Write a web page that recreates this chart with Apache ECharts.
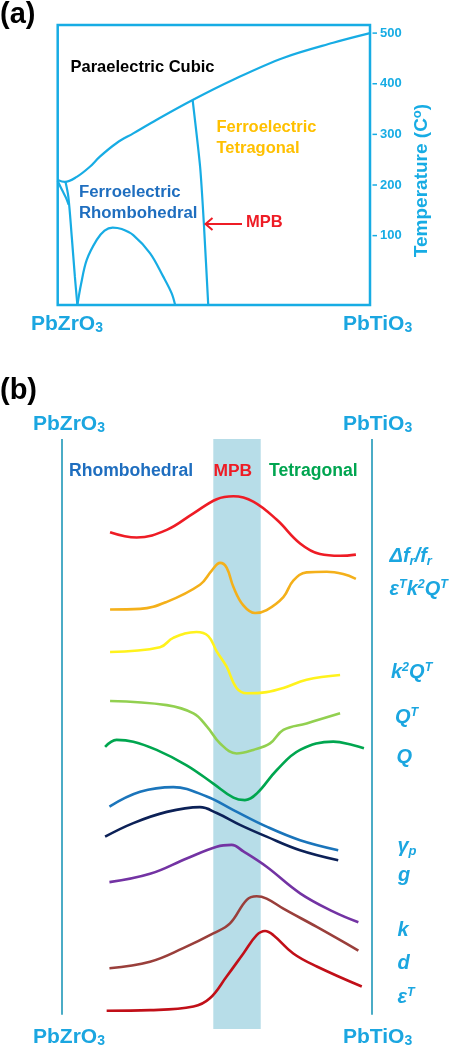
<!DOCTYPE html>
<html>
<head>
<meta charset="utf-8">
<script src="https://cdn.jsdelivr.net/npm/echarts@6/dist/echarts.min.js"></script>
<style>
html,body{margin:0;padding:0;background:#ffffff;}
#chart{width:453px;height:1050px;}
</style>
</head>
<body>
<div id="chart"></div>
<script>
// ---------- Panel (a): phase diagram (x = % PbTiO3, y = temperature °C) ----------
const tempTicks = [100, 200, 300, 400, 500];
const tempRange = [-37, 516];
const compRange = [0, 100];
const cubicBoundary = [[0,210],[2.3,206],[6.1,216],[10.3,236],[13.5,256],[18.9,283],[24.2,302],[31.7,329],[43.2,368],[56.2,408],[72.2,451],[88.2,481],[100,500]];
const mpbBoundary = [[43.2,368],[45.6,236],[46.8,124],[48.2,-37]];
const afeBoundaryA = [[0,208],[1.4,190],[2.7,174],[3.5,161]];
const afeBoundaryB = [[2.5,206],[3.4,177],[4.5,98],[5.5,19],[6.3,-37]];
const rhDome = [[6.3,-37],[7.5,5],[9.3,52],[12.5,91.5],[15,110],[17.6,116],[20.5,113],[24.2,101],[29.6,65],[33.8,19],[36.5,-14],[37.6,-37]];

// ---------- Panel (b): schematic property curves (x = composition, y = arbitrary offset units) ----------
const propRange = [0, 100];
const mpbBand = [48.9, 64.2];
const frameBottom = 2.4;
const propNames = ['Δfr/fr','εTk2QT','k2QT','QT','Q','γp','g','k','d','εT'];
const dfr  = [[15.6,84.2],[24.2,83.3],[33.9,84.6],[42.5,87.4],[50.0,89.8],[55.4,90.3],[61.8,89.4],[69.4,86.3],[76.9,82.3],[83.3,80.5],[89.8,80.2],[94.9,80.4]];
const ek2q = [[15.6,71.1],[25.3,71.2],[33.9,72.4],[44.6,75.3],[48.4,77.7],[51.1,79.0],[53.2,78.2],[55.4,74.9],[58.6,71.8],[62.4,70.5],[66.1,71.0],[71.5,73.2],[74.7,76.0],[79.0,77.4],[85.5,77.5],[90.8,77.1],[94.9,76.3]];
const k2q  = [[15.6,63.9],[31.7,64.7],[36.0,66.3],[43.5,67.3],[47.3,66.6],[50.0,64.0],[53.2,61.4],[56.4,57.8],[59.7,56.9],[66.1,57.1],[71.5,57.8],[79.0,59.2],[89.8,60.0]];
const qT   = [[15.6,55.6],[33.9,54.9],[42.5,53.5],[46.8,51.3],[51.1,48.4],[56.4,46.7],[61.8,47.3],[67.2,48.4],[71.5,50.7],[79.0,51.8],[89.8,53.5]];
const qM   = [[14.0,47.8],[17.7,49.0],[23.1,48.7],[30.6,47.3],[40.3,44.7],[48.9,41.6],[55.4,39.2],[59.1,38.8],[62.9,39.9],[69.4,43.9],[76.9,47.3],[87.6,48.7],[94.1,48.1],[97.5,47.6]];
const gammaP = [[15.4,37.7],[25.3,40.2],[36.0,41.0],[46.8,39.4],[55.4,37.1],[66.1,34.3],[76.9,32.0],[89.2,30.3]];
const gC   = [[14.0,32.6],[23.1,34.9],[33.9,36.8],[44.6,37.6],[50.0,36.6],[57.5,34.6],[66.1,32.6],[76.9,30.3],[89.2,28.6]];
const kC   = [[15.4,24.9],[28.5,26.3],[40.3,28.9],[50.0,30.9],[54.8,31.2],[58.6,30.1],[66.1,27.5],[76.9,23.0],[87.6,19.9],[95.7,18.1]];
const dC   = [[15.4,10.3],[28.5,11.4],[39.2,13.7],[48.9,16.2],[54.3,17.9],[59.7,21.9],[62.9,22.5],[66.1,22.1],[71.5,20.4],[82.3,17.3],[95.7,13.3]];
const eT   = [[14.5,3.1],[28.5,3.2],[42.5,3.8],[47.8,5.2],[53.2,8.9],[58.6,12.8],[62.9,15.9],[65.6,16.6],[68.3,15.9],[74.7,12.8],[82.3,10.6],[96.8,7.2]];
const propData = [dfr, ek2q, k2q, qT, qM, gammaP, gC, kC, dC, eT];
const propColors = ['#EE1C25','#F4B01A','#FFF21C','#92D050','#00A64F','#1B75BB','#0C2157','#7333A3','#9A3F3B','#C10F18'];

// ---------- styling ----------
const FONT = "'Liberation Sans', Arial, Helvetica, sans-serif";
const CYAN = '#17ACE4';
const LBL = '#1BA6E0';
const FRAME = '#4BACC6';

const chart = echarts.init(document.getElementById('chart'), null, {renderer: 'canvas'});

function hiddenAxis(extra) {
  return Object.assign({
    type: 'value', axisLine: {show: false}, axisTick: {show: false},
    axisLabel: {show: false}, splitLine: {show: false}
  }, extra);
}

function txt(x, y, text, opts) {
  return {
    type: 'text', x: x, y: y, silent: true, z: 100,
    rotation: opts.rotation || 0,
    style: Object.assign({
      text: text, fill: opts.color, fontFamily: FONT, fontWeight: 'bold',
      fontSize: opts.size, fontStyle: opts.italic ? 'italic' : 'normal',
      align: opts.align || 'left', verticalAlign: 'middle'
    }, opts.rich ? {rich: opts.rich} : {}, opts.lineHeight ? {lineHeight: opts.lineHeight} : {})
  };
}

const subRich = {
  sub: {fontSize: 14, fontWeight: 'bold', fontFamily: FONT, padding: [9, 0, 0, 0]},
  sup: {fontSize: 13, fontWeight: 'bold', fontFamily: FONT, padding: [0, 0, 9, 0]}
};
const labRich = {
  sub: {fontSize: 13, fontWeight: 'bold', fontStyle: 'italic', fontFamily: FONT, padding: [10, 0, 0, 0]},
  sup: {fontSize: 12.5, fontWeight: 'bold', fontStyle: 'italic', fontFamily: FONT, padding: [0, 0, 9, 0]}
};

const seriesA = [cubicBoundary, mpbBoundary, afeBoundaryA, afeBoundaryB, rhDome].map(function (d, i) {
  return {
    type: 'line', xAxisIndex: 0, yAxisIndex: 0, data: d, showSymbol: false,
    smooth: i === 1 ? 0.2 : 0.35, clip: true,
    lineStyle: {color: CYAN, width: 2.2}, silent: true, z: 3
  };
});

const frameSeries = {
  type: 'line', xAxisIndex: 1, yAxisIndex: 1, data: [], showSymbol: false, silent: true, z: 1,
  markArea: {silent: true, itemStyle: {color: '#B7DDE8'},
    data: [[{xAxis: mpbBand[0]}, {xAxis: mpbBand[1]}]]},
  markLine: {silent: true, symbol: ['none', 'none'], label: {show: false},
    lineStyle: {color: FRAME, width: 2, type: 'solid'},
    data: [
      [{coord: [propRange[0], frameBottom]}, {coord: [propRange[0], 100]}],
      [{coord: [propRange[1], frameBottom]}, {coord: [propRange[1], 100]}]
    ]}
};

const seriesB = propData.map(function (d, i) {
  return {
    name: propNames[i], type: 'line', xAxisIndex: 1, yAxisIndex: 1, data: d,
    showSymbol: false, smooth: 0.4, silent: true, z: 5,
    lineStyle: {color: propColors[i], width: 2.6}
  };
});

const graphics = [
  // panel (a)
  txt(0, 15, '(a)', {color: '#000', size: 29}),
  txt(70.5, 67, 'Paraelectric Cubic', {color: '#000', size: 16.5}),
  txt(216.5, 137.5, 'Ferroelectric\nTetragonal', {color: '#FFC000', size: 16.5, lineHeight: 21}),
  txt(79, 203, 'Ferroelectric\nRhombohedral', {color: '#1F6EBF', size: 16.8, lineHeight: 20.5}),
  txt(246, 222, 'MPB', {color: '#EE1C25', size: 16.5}),
  {type: 'line', silent: true, z: 100, shape: {x1: 206, y1: 224, x2: 242, y2: 224}, style: {stroke: '#EE1C25', lineWidth: 2}},
  {type: 'polyline', silent: true, z: 100, shape: {points: [[212.5, 218], [205.5, 224], [212.5, 230]]}, style: {stroke: '#EE1C25', lineWidth: 2, fill: null}},
  txt(31, 324, 'PbZrO{sub|3}', {color: LBL, size: 21, rich: subRich}),
  txt(343, 324, 'PbTiO{sub|3}', {color: LBL, size: 21, rich: subRich}),
  txt(421.5, 180.5, 'Temperature (C{sup|o})', {color: CYAN, size: 19, align: 'center', rotation: Math.PI / 2, rich: subRich}),
  // panel (b)
  txt(0, 391, '(b)', {color: '#000', size: 29}),
  txt(33, 424, 'PbZrO{sub|3}', {color: LBL, size: 21, rich: subRich}),
  txt(343, 424, 'PbTiO{sub|3}', {color: LBL, size: 21, rich: subRich}),
  txt(33, 1037, 'PbZrO{sub|3}', {color: LBL, size: 21, rich: subRich}),
  txt(343, 1037, 'PbTiO{sub|3}', {color: LBL, size: 21, rich: subRich}),
  txt(69, 471, 'Rhombohedral', {color: '#1F6EBF', size: 17.6}),
  txt(213.5, 471, 'MPB', {color: '#EE1C25', size: 17.4}),
  txt(269, 471, 'Tetragonal', {color: '#00A550', size: 17.6}),
  txt(389.5, 556, 'Δf{sub|r}/f{sub|r}', {color: LBL, size: 20, italic: true, rich: labRich}),
  txt(389.5, 589, 'ε{sup|T}k{sup|2}Q{sup|T}', {color: LBL, size: 20, italic: true, rich: labRich}),
  txt(391, 672, 'k{sup|2}Q{sup|T}', {color: LBL, size: 20, italic: true, rich: labRich}),
  txt(395, 717, 'Q{sup|T}', {color: LBL, size: 20, italic: true, rich: labRich}),
  txt(396.5, 757, 'Q', {color: LBL, size: 20, italic: true}),
  txt(397.5, 846, 'γ{sub|p}', {color: LBL, size: 20, italic: true, rich: labRich}),
  txt(398, 875, 'g', {color: LBL, size: 20, italic: true}),
  txt(397.5, 930, 'k', {color: LBL, size: 20, italic: true}),
  txt(397.5, 963, 'd', {color: LBL, size: 20, italic: true}),
  txt(397.5, 997, 'ε{sup|T}', {color: LBL, size: 20, italic: true, rich: labRich})
];

const option = {
  animation: false,
  backgroundColor: '#ffffff',
  textStyle: {fontFamily: FONT},
  grid: [
    {left: 57.7, top: 25, width: 312.3, height: 280, show: true, borderColor: CYAN, borderWidth: 2.5, backgroundColor: 'transparent'},
    {left: 61.7, top: 439, width: 310, height: 590, show: false}
  ],
  xAxis: [
    hiddenAxis({gridIndex: 0, min: compRange[0], max: compRange[1]}),
    hiddenAxis({gridIndex: 1, min: propRange[0], max: propRange[1]})
  ],
  yAxis: [
    {
      type: 'value', gridIndex: 0, position: 'right', min: tempRange[0], max: tempRange[1],
      axisLine: {show: false},
      axisTick: {show: false},
      axisLabel: {show: true, customValues: tempTicks, margin: 10, color: CYAN, fontWeight: 'bold', fontSize: 13, fontFamily: FONT},
      splitLine: {show: false}
    },
    hiddenAxis({gridIndex: 1, min: 0, max: 100})
  ],
  series: seriesA.concat([frameSeries]).concat(seriesB),
  graphic: graphics
};

chart.setOption(option);

// outward tick marks on the right temperature axis, placed through the axis scale
const tickMarks = tempTicks.map(function (v) {
  const p = chart.convertToPixel({xAxisIndex: 0, yAxisIndex: 0}, [compRange[1], v]);
  return {type: 'line', silent: true, z: 100,
    shape: {x1: p[0] + 2.5, y1: p[1], x2: p[0] + 7, y2: p[1]},
    style: {stroke: CYAN, lineWidth: 1.5}};
});
chart.setOption({graphic: graphics.concat(tickMarks)});
</script>
</body>
</html>
